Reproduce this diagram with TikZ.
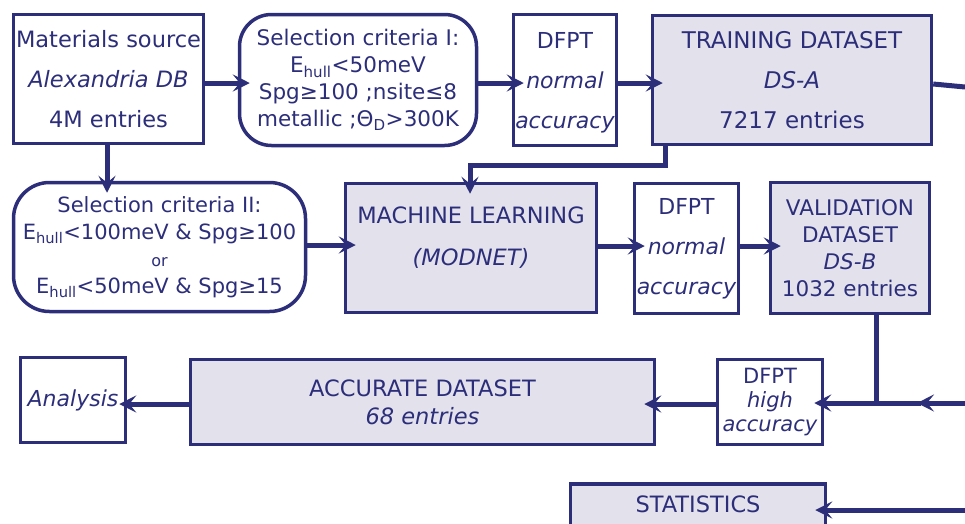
\documentclass[tikz,border=0pt]{standalone}
\usepackage{fontspec}
\setmainfont{DejaVu Sans}
\usetikzlibrary{arrows.meta}
\definecolor{navy}{RGB}{44,46,122}
\definecolor{lav}{RGB}{226,225,236}
\begin{document}
\begin{tikzpicture}[x=1pt,y=-1pt,
  box/.style={draw=navy, line width=3.5pt, text=navy, inner sep=0pt, align=center},
  filled/.style={box, fill=lav},
  conn/.style={draw=navy, line width=5pt, -{Stealth[length=17pt,width=17pt,inset=7pt]}, shorten >=-12pt},
  plain/.style={draw=navy, line width=5pt}]
\useasboundingbox (0,0) rectangle (965,523);
% row 1
\node[box, minimum width=190pt, minimum height=129pt, text depth=0pt, font=\fontsize{22.5}{40}\selectfont] (src) at (108.5,79)
  {Materials source\\ \textit{Alexandria DB}\\ 4M entries};
\node[box, rounded corners=32pt, minimum width=237pt, minimum height=131pt, font=\fontsize{21.5}{27}\selectfont] (sel1) at (358,80)
  {Selection criteria I:\\ E\textsubscript{hull}<50meV\\ Spg≥100 ;nsite≤8\\ metallic ;Θ\textsubscript{D}>300K};
\node[box, minimum width=103pt, minimum height=131pt, text depth=0pt, font=\fontsize{22}{40}\selectfont] (dfpt1) at (565,80)
  {DFPT\\ \textit{normal}\\ \textit{accuracy}};
\node[filled, minimum width=279pt, minimum height=129pt, text depth=0pt, font=\fontsize{23}{40}\selectfont] (train) at (792,80)
  {TRAINING DATASET\\ \textit{DS-A}\\ 7217 entries};
% row 2
\node[box, rounded corners=36pt, minimum width=292pt, minimum height=129pt, font=\fontsize{21}{27}\selectfont] (sel2) at (159.5,247)
  {Selection criteria II:\\ E\textsubscript{hull}<100meV \& Spg≥100\\ {\fontsize{16}{27}\selectfont or}\\ E\textsubscript{hull}<50meV \& Spg≥15};
\node[filled, minimum width=251pt, minimum height=129pt, text depth=24pt, font=\fontsize{22.5}{42}\selectfont] (ml) at (471,248)
  {MACHINE LEARNING\\ \textit{(MODNET)}};
\node[box, minimum width=104pt, minimum height=130pt, font=\fontsize{22}{40}\selectfont] (dfpt2) at (686.5,248.5)
  {DFPT\\ \textit{normal}\\ \textit{accuracy}};
\node[filled, minimum width=159pt, minimum height=131pt, font=\fontsize{21.5}{27}\selectfont] (val) at (850,248)
  {VALIDATION\\ DATASET\\ \textit{DS-B}\\ 1032 entries};
% row 3
\node[box, minimum width=105pt, minimum height=85pt, font=\fontsize{21}{24}\selectfont] (high) at (770,402)
  {DFPT\\ \textit{high}\\ \textit{accuracy}};
\node[filled, minimum width=464pt, minimum height=85pt, font=\fontsize{22.5}{28}\selectfont] (acc) at (422.5,402)
  {ACCURATE DATASET\\ \textit{68 entries}};
\node[box, minimum width=105pt, minimum height=85pt, font=\fontsize{22}{28}\selectfont] (ana) at (73,400)
  {\textit{Analysis}};
\node[filled, minimum width=255pt, minimum height=60pt, text depth=20pt, font=\fontsize{22.5}{28}\selectfont] (stat) at (698,514)
  {STATISTICS};
% coordinates
\coordinate (e1) at (965,87);
\coordinate (t1) at (665,165);
\coordinate (t2) at (470,165);
\coordinate (j) at (876,403);
\coordinate (e2) at (965,403);
\coordinate (m2) at (921,403);
\coordinate (e3) at (965,510);
% connectors
\draw[conn] ([yshift=-4pt]src.east) -- ([yshift=-4pt]src.east -| sel1.west);
\draw[conn] ([yshift=-3pt]sel1.east) -- ([yshift=-3pt]sel1.east -| dfpt1.west);
\draw[conn] ([yshift=-3pt]dfpt1.east) -- ([yshift=-3pt]dfpt1.east -| train.west);
\draw[plain] ([yshift=-4pt]train.east) -- (e1);
\draw[conn] (src.south -| 107,0) -- (sel2.north -| 107,0);
\draw[conn] (train.south -| t1) -- (t1) -- (t2) -- (ml.north -| t2);
\draw[conn] (sel2.east |- 0,245) -- (ml.west |- 0,245);
\draw[conn] (ml.east |- 0,246) -- (dfpt2.west |- 0,246);
\draw[conn] (dfpt2.east |- 0,246) -- (val.west |- 0,246);
\draw[plain] (val.south -| j) -- (j);
\draw[conn, shorten >=-4pt] (e2) -- (m2);
\draw[conn, shorten >=-10pt] (m2) -- (high.east |- j);
\draw[conn] (high.west |- 0,404) -- (acc.east |- 0,404);
\draw[conn, shorten >=-8pt] (acc.west |- 0,404) -- (ana.east |- 0,404);
\draw[conn] (e3) -- (stat.east |- e3);
\end{tikzpicture}
\end{document}
